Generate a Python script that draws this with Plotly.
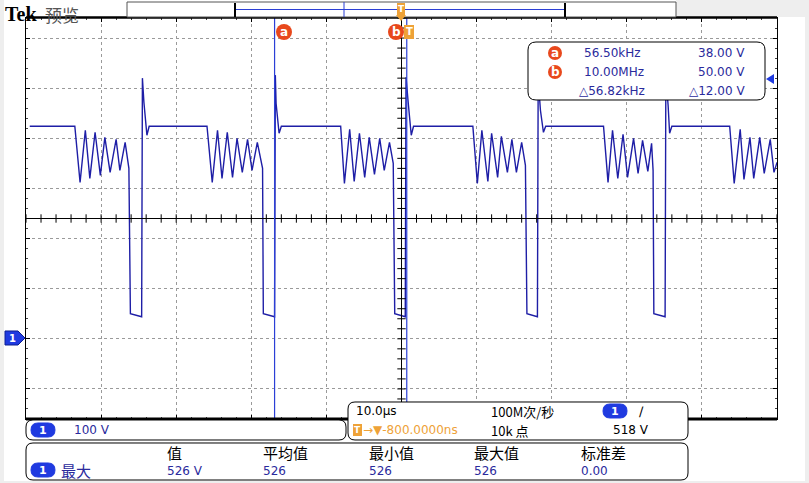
import numpy as np
import plotly.graph_objects as go

W, H = 809, 483

# 채널 1 파형 (꼭짓점만, 화면에서 읽은 값): 시간 µs, 전압 V
time_us = [
    -49.5, -43.5, -42.8, -42.1, -41.5, -40.8, -40.1, -39.5, -38.8, -38.0,
    -37.5, -36.8, -36.3, -36.1, -34.6, -34.5, -34.3, -34.0, -33.9, -33.6,
    -25.9, -25.2, -24.5, -23.9, -23.2, -22.5, -21.9, -21.2, -20.5, -19.9,
    -19.2, -18.5, -18.4, -16.9, -16.8, -16.7, -16.5, -16.3, -16.0,
    -8.1, -7.6, -6.9, -6.3, -5.6, -4.9, -4.3, -3.6, -2.9, -2.3,
    -1.6, -1.1, -0.9, 0.5, 0.6, 0.9, 1.2, 1.3, 1.6,
    9.5, 10.1, 10.7, 11.5, 12.0, 12.8, 13.3, 14.1, 14.7, 15.3,
    16.0, 16.5, 16.7, 18.1, 18.2, 18.5, 18.9, 19.2,
    26.9, 27.5, 28.1, 28.8, 29.5, 30.1, 30.9, 31.5, 32.1, 32.8,
    33.3, 33.5, 33.6, 35.1, 35.2, 35.5, 35.7, 36.0,
    43.7, 44.3, 45.1, 45.6, 46.4, 46.9, 47.7, 48.3, 49.1, 49.6, 50.0,
]
volts = [
    424, 424, 312, 416, 320, 412, 326, 402, 332, 398,
    336, 392, 340, 50, 44, 520, 472, 416, 406, 424,
    424, 312, 416, 320, 412, 322, 400, 332, 398, 336,
    392, 340, 50, 44, 526, 470, 436, 410, 424,
    424, 310, 418, 314, 410, 322, 402, 328, 400, 336,
    392, 350, 50, 44, 522, 470, 412, 406, 424,
    424, 310, 416, 314, 410, 322, 404, 332, 398, 332,
    392, 346, 50, 44, 518, 456, 412, 424,
    424, 312, 416, 320, 408, 322, 400, 330, 396, 334,
    390, 336, 50, 44, 524, 466, 410, 424,
    424, 310, 418, 318, 402, 320, 402, 330, 398, 332, 352,
]

# 커서 위치 (µs)
cursor_a = -16.9
cursor_b = 0.7

# 표시 텍스트
readout_rows = [("a", "56.50kHz", "38.00 V"), ("b", "10.00MHz", "50.00 V"), ("", "△56.82kHz", "△12.00 V")]
meas_headers = ["值", "平均值", "最小值", "最大值", "标准差"]
meas_values = ["526 V", "526", "526", "526", "0.00"]

BLUE_TXT = "#2a2a9c"
TRACE = "#1e1ea6"
CURSOR = "#2b3fd6"
PILL = "#1f3ae0"
RED = "#e8481c"
ORANGE = "#eea238"
FONT = "DejaVu Sans"
CJK = "Noto Sans CJK SC"


def X(x):
    return x / W


def Y(y):
    return 1 - y / H


def rrect(x0, y0, x1, y1, r):
    p = [
        (x0 + r, y0), (x1 - r, y0), (x1, y0), (x1, y0 + r), (x1, y1 - r), (x1, y1),
        (x1 - r, y1), (x0 + r, y1), (x0, y1), (x0, y1 - r), (x0, y0 + r), (x0, y0), (x0 + r, y0),
    ]
    q = [(X(a), Y(b)) for a, b in p]
    s = "M %f,%f L %f,%f Q %f,%f %f,%f L %f,%f Q %f,%f %f,%f L %f,%f Q %f,%f %f,%f L %f,%f Q %f,%f %f,%f Z"
    flat = [v for pt in q for v in pt]
    return s % tuple(flat)


shapes = []
annots = []


def box(x0, y0, x1, y1, r=7, fill="white", line="black", lw=1):
    shapes.append(dict(type="path", path=rrect(x0, y0, x1, y1, r), xref="paper", yref="paper",
                       fillcolor=fill, line=dict(color=line, width=lw), layer="above"))


def text(x, y, s, size=12, color="black", anchor="left", family=FONT, bold=False):
    if bold:
        s = "<b>" + s + "</b>"
    annots.append(dict(x=X(x), y=Y(y), xref="paper", yref="paper", text=s, showarrow=False,
                       xanchor=anchor, yanchor="middle", borderpad=0,
                       font=dict(size=size, color=color, family=family)))


def circle_label(cx, cy, r, letter):
    shapes.append(dict(type="circle", xref="paper", yref="paper", x0=X(cx - r), x1=X(cx + r),
                       y0=Y(cy + r), y1=Y(cy - r), fillcolor=RED, line=dict(width=0), layer="above"))
    text(cx, cy, letter, size=12, color="white", anchor="center", bold=True)


def pill(cx, cy):
    box(cx - 12, cy - 7, cx + 12, cy + 7, r=7, fill=PILL, line=PILL)
    text(cx, cy + 0.5, "1", size=11, color="white", anchor="center", bold=True)


fig = go.Figure()

# 파형
fig.add_trace(go.Scatter(x=time_us, y=volts, mode="lines",
                         line=dict(color=TRACE, width=1.4),
                         hoverinfo="skip", showlegend=False))

# 중앙선 눈금 (그래티큘 장식)
tx = np.arange(-50, 50.01, 2)
fig.add_trace(go.Scatter(x=tx, y=[240] * len(tx), mode="markers", hoverinfo="skip", showlegend=False,
                         marker=dict(symbol="line-ns", size=6, line=dict(color="black", width=1))))
ty = np.arange(-160, 640.01, 20)
fig.add_trace(go.Scatter(x=[0] * len(ty), y=ty, mode="markers", hoverinfo="skip", showlegend=False,
                         marker=dict(symbol="line-ew", size=6, line=dict(color="black", width=1))))

# 배경 회색 띠
for x0, y0, x1, y1 in [(0, 0, 4, H), (805, 0, W, H), (676, 0, W, 17), (0, 481, W, H)]:
    shapes.append(dict(type="rect", xref="paper", yref="paper", x0=X(x0), x1=X(x1), y0=Y(y1), y1=Y(y0),
                       fillcolor="#eeeeee", line=dict(width=0), layer="below"))

# 중앙 십자선
shapes.append(dict(type="line", xref="paper", yref="y", x0=X(26), x1=X(777), y0=240, y1=240,
                   line=dict(color="black", width=1), layer="above"))
shapes.append(dict(type="line", xref="x", yref="paper", x0=0, x1=0, y0=Y(419), y1=Y(18),
                   line=dict(color="black", width=1), layer="above"))

# 커서
for c in (cursor_a, cursor_b):
    shapes.append(dict(type="line", xref="x", yref="paper", x0=c, x1=c, y0=Y(419), y1=Y(18),
                       line=dict(color=CURSOR, width=1.2), layer="above"))

# 위/아래 굵은 테두리
shapes.append(dict(type="line", xref="paper", yref="paper", x0=X(26), x1=X(777), y0=Y(17.5), y1=Y(17.5),
                   line=dict(color="black", width=2.5), layer="above"))
shapes.append(dict(type="line", xref="paper", yref="paper", x0=X(26), x1=X(777), y0=Y(419), y1=Y(419),
                   line=dict(color="black", width=3), layer="above"))

# 레코드 바
shapes.append(dict(type="rect", xref="paper", yref="paper", x0=X(127), x1=X(676), y0=Y(17), y1=Y(2),
                   fillcolor="white", line=dict(color="#555555", width=1), layer="above"))
shapes.append(dict(type="line", xref="paper", yref="paper", x0=X(236), x1=X(565), y0=Y(9.5), y1=Y(9.5),
                   line=dict(color=CURSOR, width=1), layer="above"))
for bx in (235, 565):
    shapes.append(dict(type="line", xref="paper", yref="paper", x0=X(bx), x1=X(bx), y0=Y(17), y1=Y(3),
                       line=dict(color="black", width=2), layer="above"))
shapes.append(dict(type="line", xref="paper", yref="paper", x0=X(344), x1=X(344), y0=Y(17), y1=Y(2),
                   line=dict(color=CURSOR, width=1), layer="above"))

# 트리거 위치 표시
shapes.append(dict(type="rect", xref="paper", yref="paper", x0=X(397), x1=X(405), y0=Y(15), y1=Y(3),
                   fillcolor=ORANGE, line=dict(width=0), layer="above"))
shapes.append(dict(type="path", xref="paper", yref="paper",
                   path="M %f,%f L %f,%f L %f,%f Z" % (X(396), Y(15), X(406), Y(15), X(401), Y(21)),
                   fillcolor=ORANGE, line=dict(width=0), layer="above"))
text(401, 9, "T", size=9, color="white", anchor="center", bold=True)
shapes.append(dict(type="rect", xref="paper", yref="paper", x0=X(404), x1=X(414), y0=Y(39), y1=Y(25),
                   fillcolor=ORANGE, line=dict(width=0), layer="above"))
text(409, 32, "T", size=10, color="white", anchor="center", bold=True)

circle_label(284, 32, 8, "a")
circle_label(396, 32, 8, "b")

# 커서 측정창
box(528, 42, 765, 100, r=8)
for i, (lab, f, v) in enumerate(readout_rows):
    yy = 53 + i * 19
    if lab:
        circle_label(555, yy, 7, lab)
    text(583 if lab else 578, yy, f, size=12, color=BLUE_TXT)
    text(746, yy, v, size=12, color=BLUE_TXT, anchor="right")

# 트리거 레벨 화살표
shapes.append(dict(type="path", xref="paper", yref="paper",
                   path="M %f,%f L %f,%f L %f,%f Z" % (X(766), Y(79), X(774), Y(74), X(774), Y(84)),
                   fillcolor=PILL, line=dict(width=0), layer="above"))

# 채널 1 접지 표시
shapes.append(dict(type="path", xref="paper", yref="paper",
                   path="M %f,%f L %f,%f L %f,%f L %f,%f L %f,%f Z" % (
                       X(5), Y(331), X(18), Y(331), X(25), Y(338), X(18), Y(345), X(5), Y(345)),
                   fillcolor=PILL, line=dict(color="#0d1f90", width=1), layer="above"))
text(12, 338.5, "1", size=10, color="white", anchor="center", bold=True)

# 하단 정보창
box(26, 420, 346, 440, r=7)
pill(43, 430)
text(73, 430, "100 V", size=12, color=BLUE_TXT)

box(348, 402, 688, 440, r=7)
text(355, 411, "10.0µs", size=12)
text(490, 411, "100M次/秒", size=13, family=CJK)
pill(615, 411)
text(638, 411, "∕", size=13)
shapes.append(dict(type="rect", xref="paper", yref="paper", x0=X(353), x1=X(362), y0=Y(436), y1=Y(424),
                   fillcolor=ORANGE, line=dict(width=0), layer="above"))
text(357.5, 430, "T", size=9, color="white", anchor="center", bold=True)
text(362, 430, "→▼-800.0000ns", size=12, color=ORANGE)
text(490, 430, "10k 点", size=13, family=CJK)
text(650, 430, "518 V", size=12, anchor="right")

box(26, 443, 688, 480, r=7)
col_x = [166, 262, 368, 473, 580]
for cx, hdr, val in zip(col_x, meas_headers, meas_values):
    text(cx, 452, hdr, size=15, family=CJK)
    text(cx, 471, val, size=12, color=BLUE_TXT)
pill(43, 470)
text(60, 470, "最大", size=15, color=BLUE_TXT, family=CJK)

# 상단 제목
text(4, 14, "Tek", size=20, family="Liberation Serif", bold=True)
text(44, 14, "预览", size=17, color="#555555", family=CJK)

fig.update_layout(
    width=W, height=H,
    margin=dict(l=0, r=0, t=0, b=0),
    paper_bgcolor="white", plot_bgcolor="white",
    shapes=shapes, annotations=annots,
    xaxis=dict(domain=[X(26), X(777)], range=[-50, 50], dtick=10, showticklabels=False,
               showgrid=True, griddash="dot", gridcolor="#9a9a9a", gridwidth=1, zeroline=False,
               showline=True, linecolor="black", linewidth=1, mirror="ticks",
               ticks="inside", ticklen=4, tickcolor="black",
               minor=dict(ticks="inside", ticklen=2, dtick=2, tickcolor="#444444", showgrid=False),
               fixedrange=True),
    yaxis=dict(domain=[Y(419), Y(18)], range=[-160, 640], dtick=100, showticklabels=False,
               showgrid=True, griddash="dot", gridcolor="#9a9a9a", gridwidth=1, zeroline=False,
               showline=True, linecolor="black", linewidth=1, mirror="ticks",
               ticks="inside", ticklen=4, tickcolor="black",
               minor=dict(ticks="inside", ticklen=2, dtick=20, tickcolor="#444444", showgrid=False),
               fixedrange=True),
)

fig.write_html("out.html", config=dict(displayModeBar=False),
               post_script="document.body.style.margin='0';document.body.style.overflow='hidden';")
